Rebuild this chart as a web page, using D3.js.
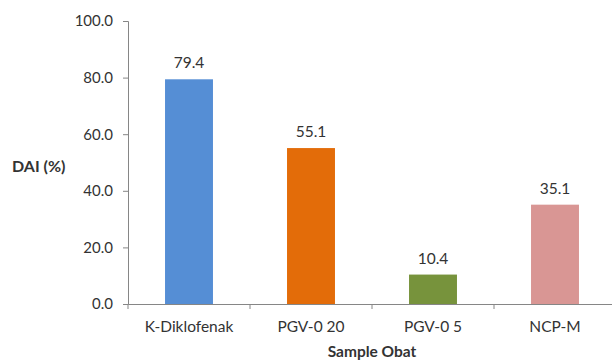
<!DOCTYPE html>
<html>
<head>
<meta charset="utf-8">
<script src="https://cdn.jsdelivr.net/npm/d3@7"></script>
<style>
  body { margin: 0; background: #fff; }
  text { font-family: Lato, "Open Sans", sans-serif; fill: #333; }
</style>
</head>
<body>
<div class="chart"></div>
<script>
const categories = ["K-Diklofenak", "PGV-0 20", "PGV-0 5", "NCP-M"];
const values = [79.4, 55.1, 10.4, 35.1];
const colors = ["#558ed5", "#e36c09", "#77933c", "#d99694"];
const yTicks = [0, 20, 40, 60, 80, 100];

const width = 612;
const height = 361;
const margin = { top: 21, right: -4, bottom: 57, left: 128 };

const svg = d3
  .select(".chart")
  .append("svg")
  .attr("width", width)
  .attr("height", height);

const xScale = d3
  .scaleBand()
  .domain(categories)
  .range([margin.left, width - margin.right])
  .paddingInner(0.607)
  .paddingOuter(0.3035);

const yScale = d3
  .scaleLinear()
  .domain([0, 100])
  .range([height - margin.bottom, margin.top]);

// bars
svg
  .selectAll(".bar")
  .data(values)
  .enter()
  .append("rect")
  .attr("class", "bar")
  .attr("x", (d, i) => xScale(categories[i]))
  .attr("y", (d) => yScale(d))
  .attr("width", xScale.bandwidth())
  .attr("height", (d) => yScale(0) - yScale(d))
  .attr("fill", (d, i) => colors[i]);

// value labels
svg
  .selectAll(".val")
  .data(values)
  .enter()
  .append("text")
  .attr("class", "val")
  .attr("x", (d, i) => xScale(categories[i]) + xScale.bandwidth() / 2)
  .attr("y", (d) => yScale(d) - 11)
  .attr("text-anchor", "middle")
  .style("font-size", "15.5px")
  .text((d) => d.toFixed(1));

// y axis
const yAxis = svg
  .append("g")
  .attr("transform", "translate(" + margin.left + ",0)")
  .call(
    d3.axisLeft(yScale).tickValues(yTicks).tickSize(5).tickFormat((d) => d.toFixed(1))
  );
yAxis.select(".domain").attr("stroke", "#868686");
yAxis.selectAll(".tick line").attr("stroke", "#868686");
yAxis
  .selectAll(".tick text")
  .attr("x", -15)
  .style("font-size", "15px")
  .style("font-family", "Lato, 'Open Sans', sans-serif")
  .attr("fill", "#333");

// x axis
const xAxis = svg
  .append("g")
  .attr("transform", "translate(0," + yScale(0) + ")")
  .call(d3.axisBottom(xScale).tickSize(0).tickSizeOuter(0));
xAxis.select(".domain").attr("stroke", "#868686");
xAxis
  .selectAll(".tick text")
  .attr("y", 17)
  .style("font-size", "15.5px")
  .style("font-family", "Lato, 'Open Sans', sans-serif")
  .attr("fill", "#333");

// category separators on x axis
const step = xScale.step();
svg
  .selectAll(".sep")
  .data(categories)
  .enter()
  .append("line")
  .attr("class", "sep")
  .attr("x1", (d) => xScale(d) - (step - xScale.bandwidth()) / 2)
  .attr("x2", (d) => xScale(d) - (step - xScale.bandwidth()) / 2)
  .attr("y1", yScale(0))
  .attr("y2", yScale(0) + 5)
  .attr("stroke", "#868686");

// axis titles
svg
  .append("text")
  .attr("x", 12)
  .attr("y", 172)
  .style("font-size", "16px")
  .style("font-weight", "bold")
  .text("DAI (%)");

svg
  .append("text")
  .attr("x", 372)
  .attr("y", 357)
  .attr("text-anchor", "middle")
  .style("font-size", "15.5px")
  .style("font-weight", "bold")
  .text("Sample Obat");
</script>
</body>
</html>
